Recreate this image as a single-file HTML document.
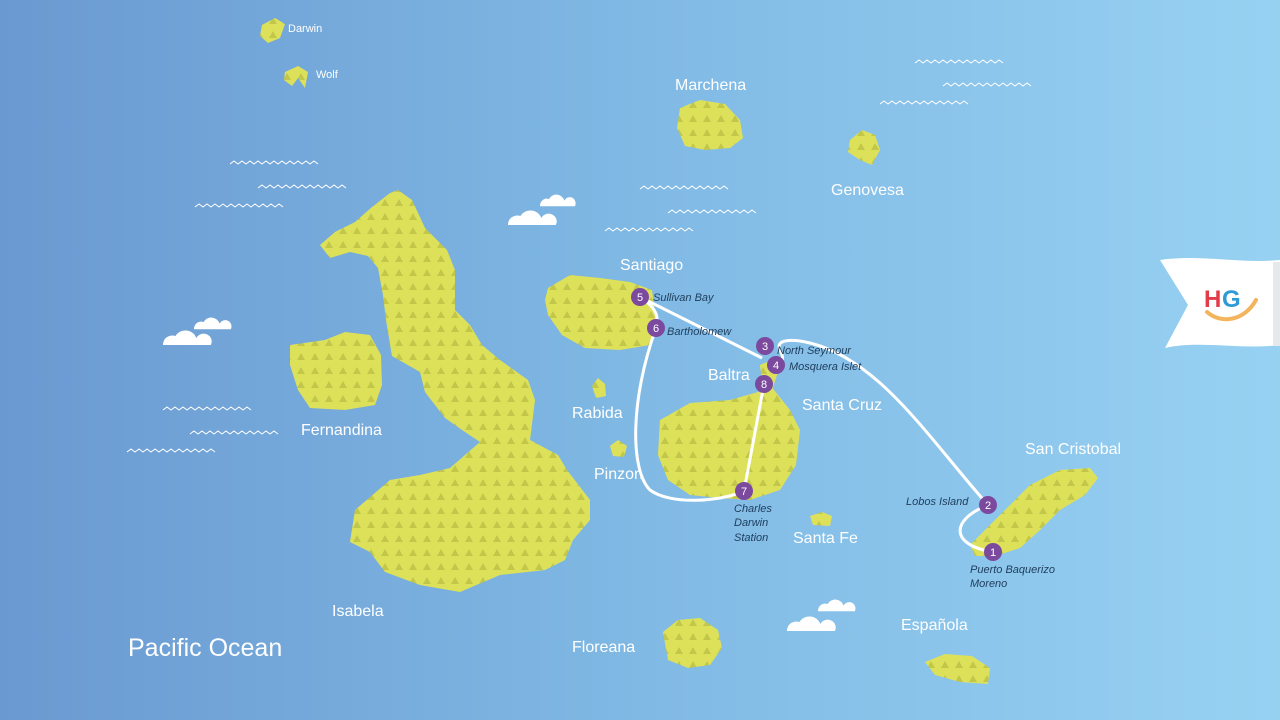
<!DOCTYPE html>
<html><head><meta charset="utf-8"><style>
html,body{margin:0;padding:0;width:1280px;height:720px;overflow:hidden}
svg{display:block}
.l{font-family:"Liberation Sans",sans-serif;fill:#fff;font-size:16px}
.s{font-family:"Liberation Sans",sans-serif;fill:#1f3d5c;font-size:11px;font-style:italic}
.n{font-family:"Liberation Sans",sans-serif;fill:#fff;font-size:11px;text-anchor:middle}
</style></head><body>
<svg width="1280" height="720" viewBox="0 0 1280 720">
<defs>
<linearGradient id="bg" x1="0" x2="1" y1="0" y2="0">
<stop offset="0" stop-color="#6a99d1"/><stop offset="0.5" stop-color="#80b9e4"/><stop offset="1" stop-color="#97d1f2"/></linearGradient>
<pattern id="tri" width="14" height="14" patternUnits="userSpaceOnUse">
<rect width="14" height="14" fill="#dde15a"/>
<polygon points="7,3 11,10 3,10" fill="#c2c74a"/>
</pattern>
<g id="cloud"><path d="M0,14 a9,9 0 0 1 12,-9 a11,11 0 0 1 20,2 a7,7 0 0 1 14,7 z" fill="#fff"/></g>
<path id="wave" d="M0,0 l4,-3 l4,3 l4,-3 l4,3 l4,-3 l4,3 l4,-3 l4,3 l4,-3 l4,3 l4,-3 l4,3 l4,-3 l4,3 l4,-3 l4,3 l4,-3 l4,3 l4,-3 l4,3 l4,-3 l4,3" fill="none" stroke="#fff" stroke-width="1"/>
</defs>
<rect width="1280" height="720" fill="url(#bg)"/>

<!-- waves -->
<use href="#wave" x="230" y="164"/><use href="#wave" x="258" y="188"/><use href="#wave" x="195" y="207"/>
<use href="#wave" x="163" y="410"/><use href="#wave" x="190" y="434"/><use href="#wave" x="127" y="452"/>
<use href="#wave" x="640" y="189"/><use href="#wave" x="668" y="213"/><use href="#wave" x="605" y="231"/>
<use href="#wave" x="915" y="63"/><use href="#wave" x="943" y="86"/><use href="#wave" x="880" y="104"/>

<!-- clouds -->
<use href="#cloud" transform="translate(508,211) scale(1.04,1)"/><use href="#cloud" transform="translate(540,195) scale(0.76,0.8)"/>
<use href="#cloud" transform="translate(163,331) scale(1.04,1)"/><use href="#cloud" transform="translate(194,318) scale(0.8,0.8)"/>
<use href="#cloud" transform="translate(787,617) scale(1.04,1)"/><use href="#cloud" transform="translate(818,600) scale(0.8,0.8)"/>

<!-- islands -->
<g fill="url(#tri)">
<path d="M398,190 L412,200 425,228 447,250 455,270 455,310 470,325 482,345 500,360 528,380 535,400 530,440 558,455 567,470 590,500 590,520 573,540 565,560 545,570 500,575 460,592 420,585 385,572 370,552 350,542 355,510 390,480 420,475 450,468 480,442 465,432 445,418 425,392 420,372 392,356 386,320 383,295 378,268 368,256 350,252 330,258 320,245 335,232 355,222 372,207 390,193 Z"/>
<path d="M290,345 L325,340 345,332 370,335 381,355 382,385 375,405 345,410 310,408 298,390 290,365 Z"/>
<path d="M548,288 L570,275 600,278 630,282 652,290 656,320 650,345 620,350 585,348 562,335 548,315 545,300 Z"/>
<path d="M660,420 L690,403 730,400 758,392 770,385 778,395 790,410 800,430 796,465 780,490 750,500 720,498 690,495 668,480 658,455 Z"/>
<path d="M760,365 L772,360 778,372 772,390 763,392 Z"/>
<path d="M680,108 L700,100 725,104 740,120 743,138 730,148 705,150 685,146 677,128 Z"/>
<path d="M663,632 L678,620 700,618 718,630 722,648 710,665 688,668 668,660 Z"/>
<path d="M925,662 L945,654 972,656 990,668 988,684 960,682 935,675 Z"/>
<path d="M970,545 L990,525 1010,505 1030,485 1060,470 1090,468 1098,478 1085,495 1060,510 1040,530 1020,548 995,556 975,556 Z"/>
<path d="M850,140 L862,130 875,135 880,150 872,165 860,160 848,152 Z"/>
<path d="M262,25 L275,18 285,24 280,38 268,43 260,36 Z"/>
<path d="M285,72 L298,66 308,72 305,88 298,78 292,86 284,80 Z"/>
<path d="M592,386 L598,378 605,384 606,396 596,398 Z"/>
<path d="M610,446 L618,440 627,446 624,457 613,456 Z"/>
<path d="M810,516 L822,512 832,516 830,526 813,525 Z"/>
</g>

<!-- route -->
<g fill="none" stroke="#fff" stroke-width="3">
<path d="M993,552 C950,545 950,520 988,505"/>
<path d="M988,505 C930,440 880,360 810,343 C790,338 775,340 780,350 C785,360 782,364 776,365"/>
<path d="M640,297 L762,358"/>
<path d="M640,297 C660,310 658,320 656,328"/>
<path d="M656,328 C630,400 630,470 650,490 C670,505 720,502 744,491"/>
<path d="M744,491 L764,384"/>
</g>
<g fill="#7b4a9e">
<circle cx="993" cy="552" r="9"/><circle cx="988" cy="505" r="9"/><circle cx="765" cy="346" r="9"/>
<circle cx="776" cy="365" r="9"/><circle cx="640" cy="297" r="9"/><circle cx="656" cy="328" r="9"/>
<circle cx="744" cy="491" r="9"/><circle cx="764" cy="384" r="9"/></g>
<text class="n" x="993" y="556">1</text><text class="n" x="988" y="509">2</text><text class="n" x="765" y="350">3</text>
<text class="n" x="776" y="369">4</text><text class="n" x="640" y="301">5</text><text class="n" x="656" y="332">6</text>
<text class="n" x="744" y="495">7</text><text class="n" x="764" y="388">8</text>

<text class="s" x="653" y="301">Sullivan Bay</text>
<text class="s" x="667" y="335">Bartholomew</text>
<text class="s" x="777" y="354">North Seymour</text>
<text class="s" x="789" y="370">Mosquera Islet</text>
<text class="s" x="734" y="512">Charles</text><text class="s" x="734" y="526">Darwin</text><text class="s" x="734" y="541">Station</text>
<text class="s" x="906" y="505">Lobos Island</text>
<text class="s" x="970" y="573">Puerto Baquerizo</text><text class="s" x="970" y="587">Moreno</text>

<!-- labels -->
<text class="l" x="288" y="32" style="font-size:11px">Darwin</text>
<text class="l" x="316" y="78" style="font-size:11px">Wolf</text>
<text class="l" x="675" y="90">Marchena</text>
<text class="l" x="831" y="195">Genovesa</text>
<text class="l" x="620" y="270">Santiago</text>
<text class="l" x="708" y="380">Baltra</text>
<text class="l" x="802" y="410">Santa Cruz</text>
<text class="l" x="572" y="418">Rabida</text>
<text class="l" x="594" y="479">Pinzon</text>
<text class="l" x="301" y="435">Fernandina</text>
<text class="l" x="1025" y="454">San Cristobal</text>
<text class="l" x="793" y="543">Santa Fe</text>
<text class="l" x="332" y="616">Isabela</text>
<text class="l" x="572" y="652">Floreana</text>
<text class="l" x="901" y="630">Española</text>
<text class="l" x="128" y="656" style="font-size:25px">Pacific Ocean</text>

<!-- flag -->
<path d="M1160,260 C1200,254 1240,264 1280,260 L1280,345 C1240,350 1200,340 1165,348 L1188,305 Z" fill="#fff"/>
<rect x="1273" y="262" width="7" height="84" fill="#e6e8ec"/>
<text x="1204" y="307" style="font-family:'Liberation Sans',sans-serif;font-weight:bold;font-size:24px" fill="#e23b4a">H</text>
<text x="1222" y="307" style="font-family:'Liberation Sans',sans-serif;font-weight:bold;font-size:24px" fill="#2e9ad6">G</text>
<path d="M1207,312 C1222,325 1245,320 1256,300" fill="none" stroke="#f3b45e" stroke-width="4" stroke-linecap="round"/>
</svg>
</body></html>
